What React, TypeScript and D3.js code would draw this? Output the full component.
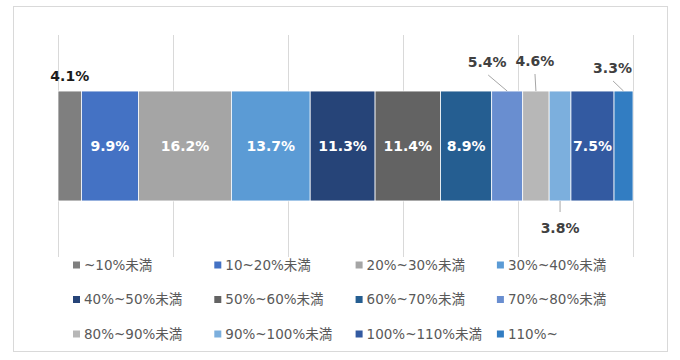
import React from 'react';
import * as d3 from 'd3';

// 構成比 (%)
const categories = [
  '~10%未満', '10~20%未満', '20%~30%未満', '30%~40%未満',
  '40%~50%未満', '50%~60%未満', '60%~70%未満', '70%~80%未満',
  '80%~90%未満', '90%~100%未満', '100%~110%未満', '110%~',
];
const values = [4.1, 9.9, 16.2, 13.7, 11.3, 11.4, 8.9, 5.4, 4.6, 3.8, 7.5, 3.3];
const colors = [
  '#7f7f7f', '#4472c4', '#a5a5a5', '#5b9bd5', '#264478', '#636363',
  '#255e91', '#698ed0', '#b7b7b7', '#7cafdd', '#335aa1', '#327dc2',
];
const gridTicks = [0, 0.2, 0.4, 0.6, 0.8, 1];

// small segments get their label outside the bar (offset from segment centre)
const callouts: Record<number, { dx: number; dy: number; leader: boolean; below?: boolean; color: string }> = {
  0: { dx: 0, dy: -70, leader: false, color: '#1a1a1a' },
  7: { dx: -20, dy: -84, leader: true, color: '#404040' },
  8: { dx: -1, dy: -85, leader: true, color: '#404040' },
  9: { dx: 0, dy: 82, leader: true, below: true, color: '#404040' },
  11: { dx: -11, dy: -78, leader: true, color: '#404040' },
};

const W = 680;
const H = 360;
const font = '"DejaVu Sans", "Noto Sans CJK JP", sans-serif';

export default function App() {
  const total = d3.sum(values);
  const cum = [0, ...Array.from(d3.cumsum(values))];
  const x = d3.scaleLinear().domain([0, 1]).range([58, 633]);
  const y = d3.scaleBand().domain(['all']).range([35, 257]).paddingInner(0).paddingOuter(0.51);
  const barTop = y('all')!;
  const barH = y.bandwidth();
  const cy = barTop + barH / 2;

  const legendX = d3.scaleLinear().domain([0, 1]).range([73, 214.3]);
  const legendY = d3.scaleLinear().domain([0, 1]).range([265, 299.5]);

  const segs = values.map((v, i) => {
    const x0 = x(cum[i] / total);
    const x1 = x(cum[i + 1] / total);
    return { v, i, x0, x1, mid: (x0 + x1) / 2 };
  });

  return (
    <svg width={W} height={H} style={{ position: 'absolute', left: 0, top: 0, background: '#fff' }}>
      <rect x={13.5} y={6.5} width={654} height={345} fill="#fff" stroke="#d9d9d9" />
      {gridTicks.map((t) => (
        <line key={t} x1={Math.round(x(t)) + 0.5} x2={Math.round(x(t)) + 0.5} y1={35} y2={257} stroke="#d9d9d9" />
      ))}
      {segs.map((s) => (
        <rect key={s.i} x={s.x0} y={barTop} width={s.x1 - s.x0} height={barH}
          fill={colors[s.i]} stroke="#fff" strokeWidth={0.75} />
      ))}
      {segs.map((s) => {
        const c = callouts[s.i];
        const label = `${s.v.toFixed(1)}%`;
        if (!c) {
          return (
            <text key={s.i} x={s.mid} y={cy} dy="0.36em" textAnchor="middle" fill="#fff"
              fontFamily={font} fontWeight="bold" fontSize={14}>{label}</text>
          );
        }
        const lx = s.mid + c.dx;
        const ly = cy + c.dy;
        const edgeY = c.below ? barTop + barH : barTop;
        const endY = c.below ? ly - 16 : ly + 13;
        return (
          <g key={s.i}>
            {c.leader && (
              <line x1={s.mid} y1={edgeY} x2={lx + (s.mid - lx) * 0.05} y2={endY}
                stroke="#a6a6a6" strokeWidth={1} />
            )}
            <text x={lx} y={ly} dy="0.36em" textAnchor="middle" fill={c.color}
              fontFamily={font} fontWeight="bold" fontSize={14}>{label}</text>
          </g>
        );
      })}
      {categories.map((name, i) => {
        const col = i % 4;
        const row = Math.floor(i / 4);
        const lx = legendX(col);
        const ly = legendY(row);
        return (
          <g key={name}>
            <rect x={lx} y={ly - 3.5} width={7} height={7} fill={colors[i]} />
            <text x={lx + 11} y={ly} dy="0.36em" fill="#595959" fontFamily={font} fontSize={13.5}>{name}</text>
          </g>
        );
      })}
    </svg>
  );
}
